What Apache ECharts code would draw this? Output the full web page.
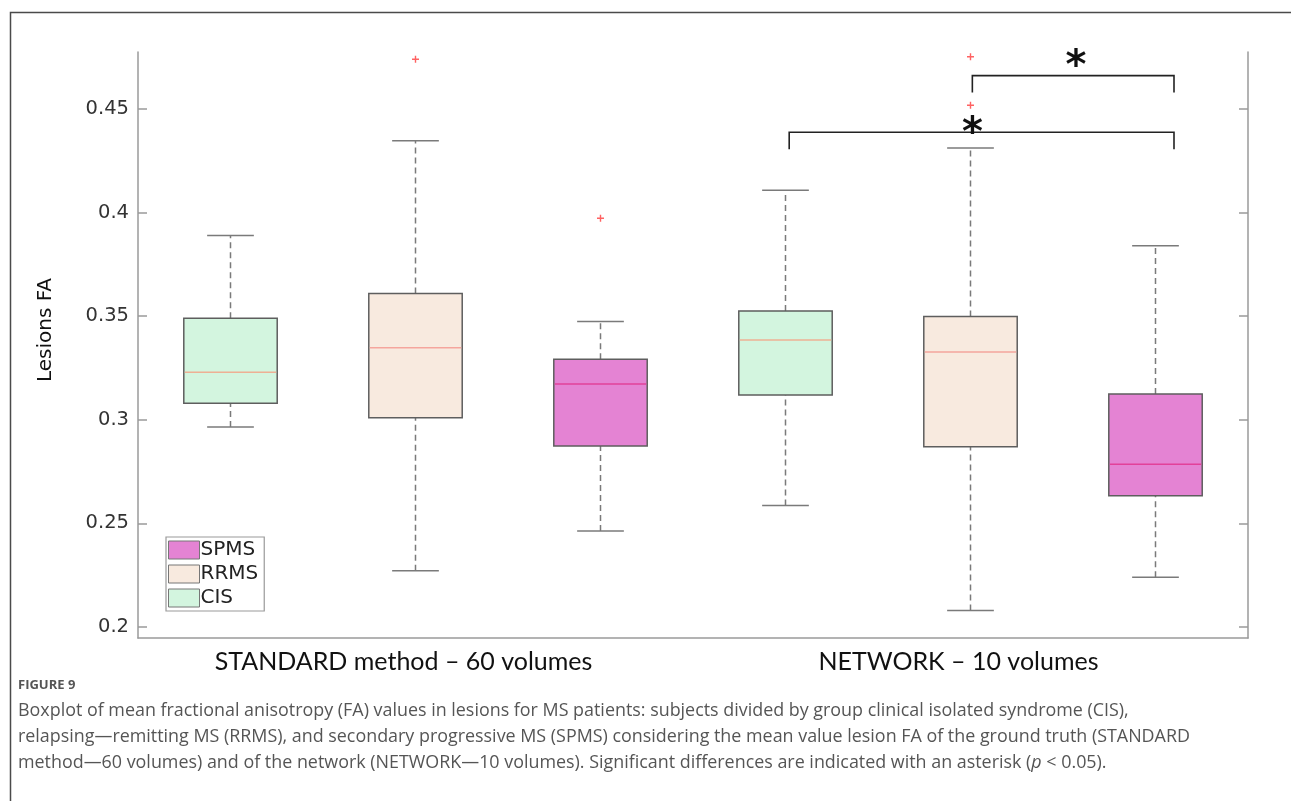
<!DOCTYPE html>
<html>
<head>
<meta charset="utf-8">
<title>Lesions FA boxplot</title>
<script src="https://cdn.jsdelivr.net/npm/echarts@6/dist/echarts.min.js"></script>
<style>
  html, body { margin: 0; padding: 0; background: #fff; }
  #chart { width: 1291px; height: 801px; }
</style>
</head>
<body>
<div id="chart"></div>
<script>
// Acquisition methods (x groups) and patient subtypes (boxes inside a group)
const methods = ['STANDARD method – 60 volumes', 'NETWORK – 10 volumes'];
const subtypes = ['CIS', 'RRMS', 'SPMS'];

// Box statistics per method: [lower whisker, Q1, median, Q3, upper whisker]
const cisStats  = [[0.2965, 0.308, 0.323, 0.349, 0.389], [0.2587, 0.312, 0.3385, 0.3525, 0.4108]];
const rrmsStats = [[0.2272, 0.301, 0.3348, 0.361, 0.4347], [0.208, 0.287, 0.3327, 0.3498, 0.4312]];
const spmsStats = [[0.2463, 0.2874, 0.3173, 0.3292, 0.3475], [0.224, 0.2634, 0.2785, 0.3125, 0.384]];

// Outliers per method
const cisOutliers  = [[], []];
const rrmsOutliers = [[0.474], [0.4752, 0.4518]];
const spmsOutliers = [[0.3973], []];

// Y axis ticks
const yTicks = [0.2, 0.25, 0.3, 0.35, 0.4, 0.45];
const yMin = 0.1947, yMax = 0.4775;

// Significance brackets: [from slot, to slot, bar height, asterisk slot, asterisk height]
const brackets = [
  [3.02, 5.1, 0.4388, 4.01, 0.4427],
  [4.01, 5.1, 0.4661, 4.57, 0.4748]
];

const fills   = { CIS: '#d3f5df', RRMS: '#f8eadf', SPMS: '#e483d3' };
const medians = { CIS: '#eeb094', RRMS: '#f5a59d', SPMS: '#e2409a' };

const statsBy = { CIS: cisStats, RRMS: rrmsStats, SPMS: spmsStats };
const outliersBy = { CIS: cisOutliers, RRMS: rrmsOutliers, SPMS: spmsOutliers };

// one x slot per (method, subtype)
const slots = [];
methods.forEach(m => subtypes.forEach(s => slots.push(m + '|' + s)));
const slotOf = (mi, si) => mi * subtypes.length + si;

function boxRender(params, api) {
  const x = api.value(0);
  const lo = api.coord([x, api.value(1)]);
  const q1 = api.coord([x, api.value(2)]);
  const md = api.coord([x, api.value(3)]);
  const q3 = api.coord([x, api.value(4)]);
  const hi = api.coord([x, api.value(5)]);
  const band = api.size([1, 0])[0];
  const bw = band * 0.505;
  const cap = bw / 2;
  const cx = q1[0];
  const name = params.seriesName;
  const whisker = { stroke: '#7a7a7a', lineWidth: 1.5, lineDash: [6, 4] };
  const capStyle = { stroke: '#7a7a7a', lineWidth: 1.5 };
  return {
    type: 'group',
    children: [
      { type: 'line', shape: { x1: cx, y1: q3[1], x2: cx, y2: hi[1] }, style: whisker },
      { type: 'line', shape: { x1: cx, y1: lo[1], x2: cx, y2: q1[1] }, style: whisker },
      { type: 'line', shape: { x1: cx - cap / 2, y1: hi[1], x2: cx + cap / 2, y2: hi[1] }, style: capStyle },
      { type: 'line', shape: { x1: cx - cap / 2, y1: lo[1], x2: cx + cap / 2, y2: lo[1] }, style: capStyle },
      { type: 'rect', shape: { x: cx - bw / 2, y: q3[1], width: bw, height: q1[1] - q3[1] },
        style: { fill: fills[name], stroke: '#5e5e5e', lineWidth: 1.5 } },
      { type: 'line', shape: { x1: cx - bw / 2 + 1, y1: md[1], x2: cx + bw / 2 - 1, y2: md[1] },
        style: { stroke: medians[name], lineWidth: 1.5 } }
    ]
  };
}

function bracketRender(params, api) {
  const band = api.size([1, 0])[0];
  const px = (s, v) => api.coord([Math.floor(s), v])[0] + (s - Math.floor(s)) * band;
  const v = api.value(2);
  const y = api.coord([0, v])[1];
  const x1 = px(api.value(0), v), x2 = px(api.value(1), v);
  const sv = api.value(4);
  const sx = px(api.value(3), sv), sy = api.coord([0, sv])[1];
  const drop = 17;
  const fontSize = 40;
  return {
    type: 'group',
    children: [
      { type: 'polyline', shape: { points: [[x1, y + drop], [x1, y], [x2, y], [x2, y + drop]] },
        style: { fill: 'none', stroke: '#222', lineWidth: 1.6 } },
      // the asterisk glyph sits high in its box, so the anchor is pushed down
      { type: 'text', style: { text: '*', x: sx, y: sy + fontSize * 0.26, fill: '#111',
        font: 'bold ' + fontSize + 'px "DejaVu Sans"', align: 'center', verticalAlign: 'middle' } }
    ]
  };
}

const boxSeries = subtypes.map((s, si) => ({
  name: s,
  type: 'custom',
  renderItem: boxRender,
  itemStyle: { color: fills[s] },
  encode: { x: 0, y: [1, 2, 3, 4, 5] },
  data: methods.map((m, mi) => [slotOf(mi, si)].concat(statsBy[s][mi])),
  z: 3
}));

const outlierData = [];
subtypes.forEach((s, si) => methods.forEach((m, mi) => {
  outliersBy[s][mi].forEach(v => outlierData.push([slotOf(mi, si), v]));
}));

const chart = echarts.init(document.getElementById('chart'));
const tickFont = { fontFamily: 'DejaVu Sans', fontSize: 19.5, color: '#333' };
const captionFont = '17.9px "Open Sans"';

chart.setOption({
  animation: false,
  backgroundColor: '#fff',
  grid: { left: 138, right: 43, top: 52, bottom: 163 },
  xAxis: {
    type: 'category',
    data: slots,
    boundaryGap: true,
    axisLine: { lineStyle: { color: '#9a9a9a', width: 1.5 } },
    axisTick: { alignWithLabel: true, inside: true, length: 7, lineStyle: { color: '#9a9a9a', width: 1.5 } },
    axisLabel: {
      interval: 0,
      margin: 11,
      padding: [0, 24, 0, 0],
      fontFamily: 'Lato', fontSize: 25, color: '#111',
      formatter: (val, idx) => (idx % subtypes.length === 1 ? val.split('|')[0] : '')
    },
    splitLine: { show: false }
  },
  yAxis: [{
    type: 'value',
    min: yMin, max: yMax,
    name: 'Lesions FA',
    nameLocation: 'middle',
    nameGap: 82,
    nameTextStyle: { fontFamily: 'DejaVu Sans', fontSize: 20, color: '#111', padding: [0, 0, 0, 30] },
    axisLine: { show: true, lineStyle: { color: '#9a9a9a', width: 1.5 } },
    axisTick: { show: true, inside: true, length: 9, customValues: yTicks, lineStyle: { color: '#9a9a9a', width: 1.5 } },
    axisLabel: Object.assign({ customValues: yTicks, margin: 9, formatter: v => String(+v.toFixed(2)) }, tickFont),
    splitLine: { show: false }
  }, {
    type: 'value',
    position: 'right',
    min: yMin, max: yMax,
    axisLine: { show: true, lineStyle: { color: '#9a9a9a', width: 1.5 } },
    axisTick: { show: true, inside: true, length: 9, customValues: yTicks, lineStyle: { color: '#9a9a9a', width: 1.5 } },
    axisLabel: { show: false },
    splitLine: { show: false }
  }],
  legend: {
    orient: 'vertical',
    left: 166, top: 537,
    selectedMode: false,
    icon: 'rect',
    itemWidth: 31, itemHeight: 18, itemGap: 4,
    padding: [3, 6, 3, 2],
    backgroundColor: '#fff',
    borderColor: '#9a9a9a', borderWidth: 1.2,
    textStyle: { fontFamily: 'DejaVu Sans', fontSize: 20, color: '#222', padding: [0, 0, 0, -4] },
    data: ['SPMS', 'RRMS', 'CIS'].map(s => ({ name: s, itemStyle: { color: fills[s], borderColor: '#777', borderWidth: 1 } }))
  },
  series: boxSeries.concat([
    {
      name: 'outliers',
      type: 'scatter',
      data: outlierData,
      symbol: 'path://M2,0H3V2H5V3H3V5H2V3H0V2H2Z',
      symbolSize: 7,
      itemStyle: { color: '#ff3b3b' },
      z: 4
    },
    {
      name: 'significance',
      type: 'custom',
      renderItem: bracketRender,
      encode: { x: 0, y: 2 },
      data: brackets,
      z: 5
    }
  ]),
  graphic: [
    { type: 'rect', left: 8, top: 10, z: -1, silent: true,
      shape: { width: 1300, height: 820 }, style: { fill: 'none', stroke: '#4a4a4a', lineWidth: 1.5 } },
    { type: 'text', left: 18, top: 679, style: { text: 'FIGURE 9', font: 'bold 13px "Open Sans"', fill: '#555' } },
    { type: 'text', left: 18, top: 702, style: { text: 'Boxplot of mean fractional anisotropy (FA) values in lesions for MS patients: subjects divided by group clinical isolated syndrome (CIS),', font: captionFont, fill: '#555' } },
    { type: 'text', left: 18, top: 728, style: { text: 'relapsing\u2014remitting MS (RRMS), and secondary progressive MS (SPMS) considering the mean value lesion FA of the ground truth (STANDARD', font: captionFont, fill: '#555' } },
    { type: 'text', left: 18, top: 754, style: { rich: { i: { font: 'italic ' + captionFont, fill: '#555' } }, text: 'method\u201460 volumes) and of the network (NETWORK\u201410 volumes). Significant differences are indicated with an asterisk ({i|p} < 0.05).', font: captionFont, fill: '#555' } }
  ]
});
</script>
</body>
</html>
